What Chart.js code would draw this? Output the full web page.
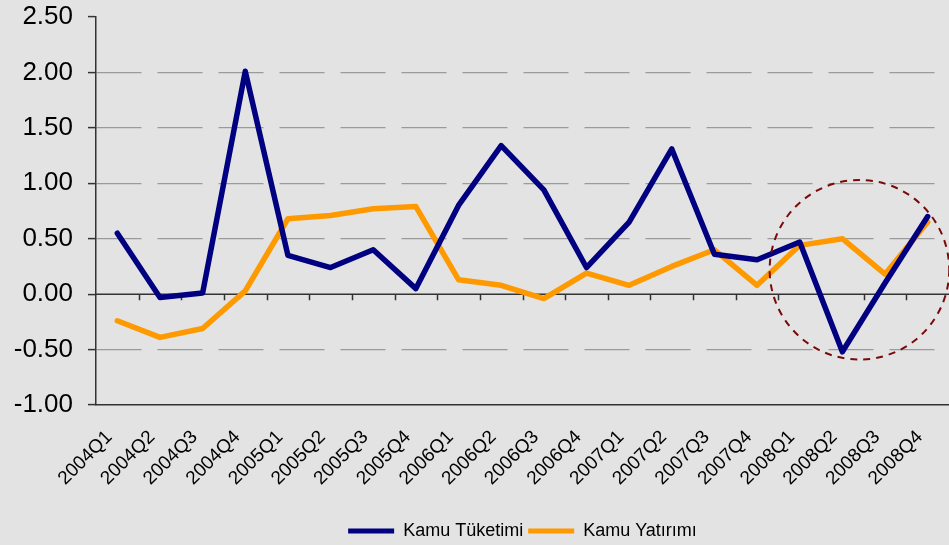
<!DOCTYPE html>
<html>
<head>
<meta charset="utf-8">
<script src="https://cdn.jsdelivr.net/npm/chart.js@4.4.1/dist/chart.umd.min.js"></script>
<style>
html, body { margin: 0; padding: 0; background: #e3e3e3; }
#wrap { width: 949px; height: 545px; }
</style>
</head>
<body>
<div id="wrap"><canvas id="chartEl"></canvas></div>
<script>
/************ DATA ************/
const quarters = [
    "2004Q1", "2004Q2", "2004Q3", "2004Q4",
    "2005Q1", "2005Q2", "2005Q3", "2005Q4",
    "2006Q1", "2006Q2", "2006Q3", "2006Q4",
    "2007Q1", "2007Q2", "2007Q3", "2007Q4",
    "2008Q1", "2008Q2", "2008Q3", "2008Q4"
];
const kamuTuketimi = [
    0.55, -0.03, 0.01, 2.01,
    0.35, 0.24, 0.40, 0.05,
    0.80, 1.34, 0.94, 0.24,
    0.65, 1.31, 0.36, 0.31,
    0.47, -0.52, 0.10, 0.70
];
const kamuYatirimi = [
    -0.24, -0.39, -0.31, 0.03,
    0.68, 0.71, 0.77, 0.79,
    0.13, 0.08, -0.04, 0.19,
    0.08, 0.25, 0.40, 0.08,
    0.44, 0.50, 0.18, 0.65
];
const yMin = -1, yMax = 2.5, yStep = 0.5;

// dashed circle round the 2008 quarters (category index, value, radius in value units)
const circleAt = { index: 17.4, value: 0.22, radius: 0.81 };

/************ PLUGINS ************/
const background = {
    id: "background",
    beforeDraw(c) {
        const ctx = c.ctx;
        ctx.save();
        ctx.fillStyle = "#e3e3e3";
        ctx.fillRect(0, 0, c.width, c.height);
        ctx.restore();
    }
};

// category axis crosses at zero, with its tick marks there
const zeroAxis = {
    id: "zeroAxis",
    beforeDatasetsDraw(c) {
        const x = c.scales.x, y = c.scales.y, ctx = c.ctx;
        const y0 = y.getPixelForValue(0);
        ctx.save();
        ctx.strokeStyle = "#333";
        ctx.lineWidth = 1.5;
        ctx.beginPath();
        ctx.moveTo(c.chartArea.left, y0);
        ctx.lineTo(c.chartArea.right, y0);
        for (let i = 1; i < quarters.length; i++) {
            const px = Math.round(x.getPixelForValue(i - 0.5)) + 0.5;
            ctx.moveTo(px, y0);
            ctx.lineTo(px, y0 + 6);
        }
        ctx.stroke();
        ctx.restore();
    }
};

const circleMark = {
    id: "circleMark",
    afterDatasetsDraw(c) {
        const x = c.scales.x, y = c.scales.y, ctx = c.ctx;
        const cx = x.getPixelForValue(circleAt.index);
        const cy = y.getPixelForValue(circleAt.value);
        const r = y.getPixelForValue(0) - y.getPixelForValue(circleAt.radius);
        ctx.save();
        ctx.strokeStyle = "#7a0a0a";
        ctx.lineWidth = 2;
        ctx.setLineDash([7, 6]);
        ctx.beginPath();
        ctx.arc(cx, cy, r, 0, Math.PI * 2);
        ctx.stroke();
        ctx.restore();
    }
};

/************ CHART ************/
Chart.defaults.font.family = "'Liberation Sans', Arial, sans-serif";
Chart.defaults.color = "#000";

new Chart(document.getElementById("chartEl"), {
    type: "line",
    data: {
        labels: quarters,
        datasets: [
            { label: "Kamu Tüketimi", data: kamuTuketimi, borderColor: "#000080", backgroundColor: "#000080" },
            { label: "Kamu Yatırımı", data: kamuYatirimi, borderColor: "#ff9900", backgroundColor: "#ff9900" }
        ]
    },
    options: {
        responsive: true,
        maintainAspectRatio: false,
        animation: false,
        layout: { padding: { top: 17, left: 0, right: 0, bottom: -5 } },
        elements: {
            line: { borderWidth: 5.5, tension: 0, borderCapStyle: "round", borderJoinStyle: "round" },
            point: { radius: 0, hoverRadius: 0 }
        },
        scales: {
            x: {
                offset: true,
                grid: { display: false },
                border: { display: true, color: "#333", width: 1.5 },
                ticks: { autoSkip: false, minRotation: 45, maxRotation: 45, padding: 13, labelOffset: -8, font: { size: 19 } },
                afterFit: s => { s.height = 112; s.paddingLeft = 0; s.paddingRight = 0; }
            },
            y: {
                min: yMin,
                max: yMax,
                ticks: { stepSize: yStep, padding: 15, font: { size: 26 }, callback: v => v.toFixed(2) },
                grid: {
                    color: ctx => [yMin, 0, yMax].includes(ctx.tick.value) ? "rgba(0,0,0,0)" : "#9a9a9a",
                    tickColor: "#333",
                    tickLength: 8,
                    tickWidth: 1.5,
                    lineWidth: 1.2
                },
                border: { display: true, color: "#333", width: 1.5, dash: [45, 16] },
                afterFit: s => { s.width = 96; s.paddingTop = 0; s.paddingBottom = 0; }
            }
        },
        plugins: {
            legend: {
                position: "bottom",
                fullSize: false,
                labels: {
                    boxWidth: 46,
                    boxHeight: 5,
                    padding: 5,
                    font: { size: 18 },
                    generateLabels: chart => Chart.defaults.plugins.legend.labels.generateLabels(chart)
                        .map(l => ({ ...l, lineWidth: 0, fillStyle: l.strokeStyle }))
                }
            },
            tooltip: { enabled: false }
        }
    },
    plugins: [background, zeroAxis, circleMark]
});
</script>
</body>
</html>
